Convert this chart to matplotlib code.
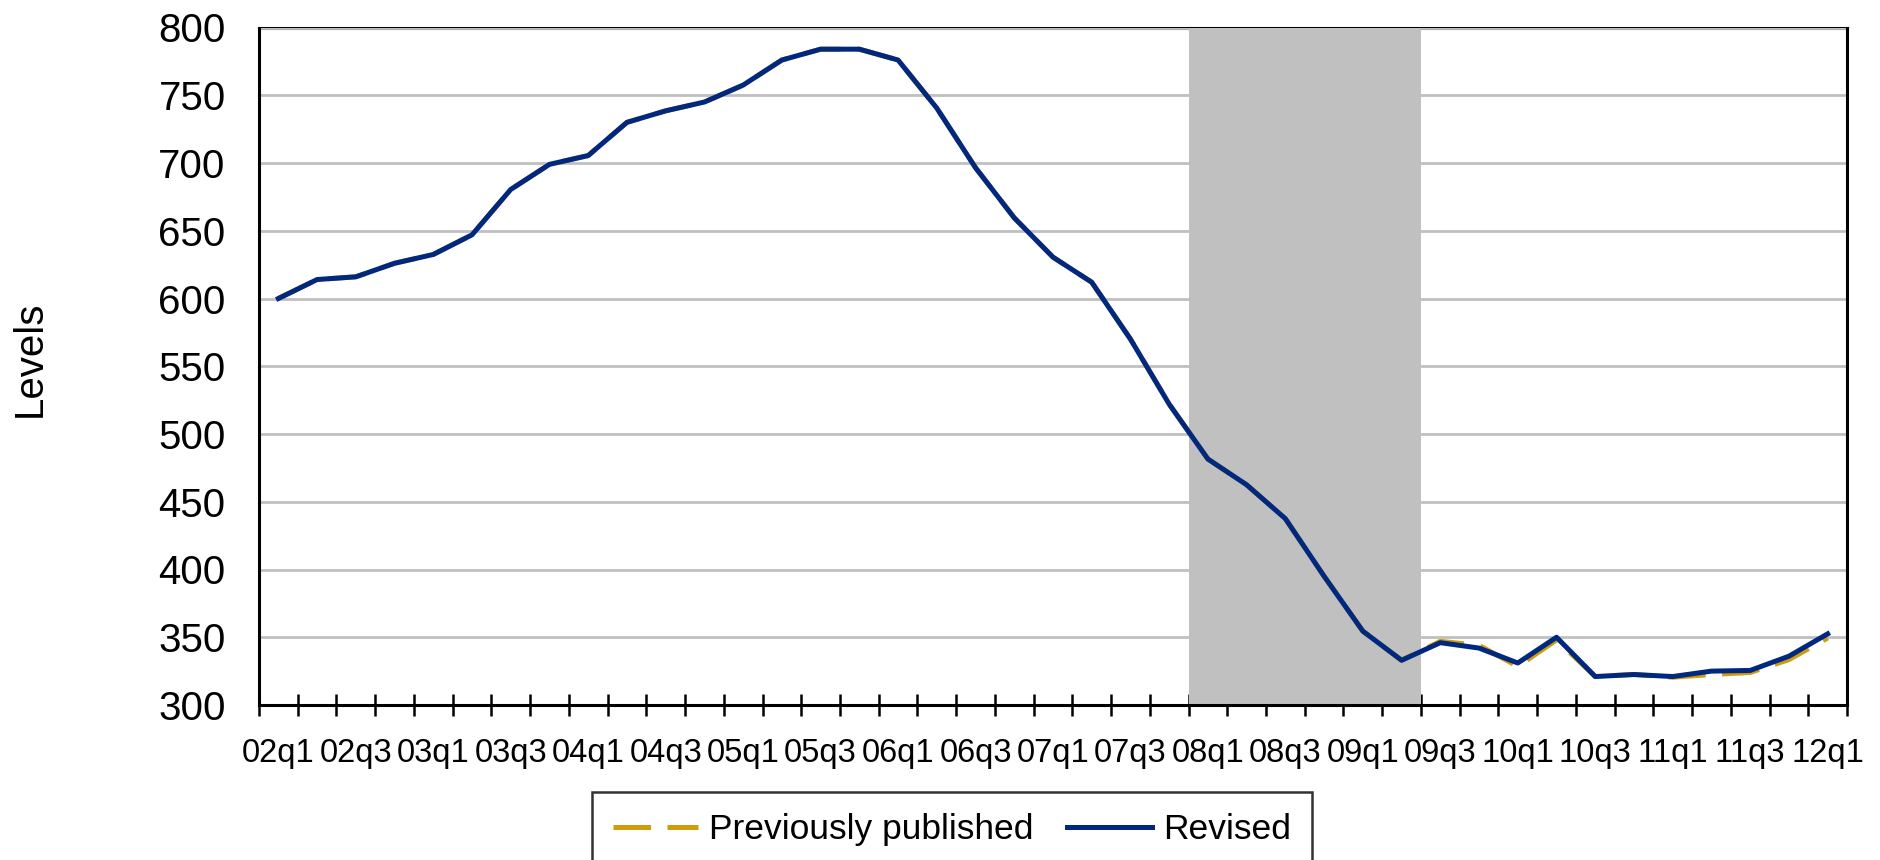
import matplotlib
matplotlib.use('Agg')
import matplotlib.pyplot as plt
from matplotlib.ticker import MultipleLocator

plt.rcParams['font.family'] = ['Liberation Sans', 'DejaVu Sans']

# Quarterly categories (02q1 .. 12q1)
quarters = ['02q1', '02q2', '02q3', '02q4', '03q1', '03q2', '03q3', '03q4',
            '04q1', '04q2', '04q3', '04q4', '05q1', '05q2', '05q3', '05q4',
            '06q1', '06q2', '06q3', '06q4', '07q1', '07q2', '07q3', '07q4',
            '08q1', '08q2', '08q3', '08q4', '09q1', '09q2', '09q3', '09q4',
            '10q1', '10q2', '10q3', '10q4', '11q1', '11q2', '11q3', '11q4',
            '12q1']

revised = [600, 614, 616, 626, 632.5, 647, 680.5, 699, 705.5, 730, 738.5, 745,
           757.5, 776, 784, 784, 776, 740.5, 696.5, 659.5, 630.5, 612, 570, 522,
           481.5, 462.5, 437.5, 395, 354.5, 333, 346, 342, 331, 350, 321, 322.5,
           321, 325, 325.5, 336, 352.5]

previously_published = [600, 614, 616, 626, 632.5, 647, 680.5, 699, 705.5, 730, 738.5, 745,
                        757.5, 776, 784, 784, 776, 740.5, 696.5, 659.5, 630.5, 612, 570, 522,
                        481.5, 462.5, 437.5, 395, 354.5, 333, 347, 344, 328.5, 348, 321, 322.5,
                        320.5, 322.5, 324, 333.5, 349.5]

# recession shading: 08q1 through 09q2
shade_start = '08q1'
shade_end = '09q2'

c_navy = '#00287f'
c_orange = '#d09c0c'
c_grid = '#c0c0c0'

fig = plt.figure(figsize=(18.81, 8.6), dpi=100)
ax = fig.add_axes([259 / 1881, 1 - 705 / 860, (1847 - 259) / 1881, (705 - 27.5) / 860])

x = list(range(len(quarters)))
i0 = quarters.index(shade_start)
i1 = quarters.index(shade_end)
ax.axvspan(i0 - 0.5, i1 + 0.5, color='#c0c0c0', lw=0, zorder=1)

ax.plot(x, previously_published, color=c_orange, lw=3.6, dashes=[7.5, 3.3],
        label='Previously published', zorder=3)
ax.plot(x, revised, color=c_navy, lw=3.6, label='Revised', zorder=4)

ax.set_xlim(-0.5, len(quarters) - 0.5)
ax.set_ylim(300, 800)
ax.yaxis.set_major_locator(MultipleLocator(50))
ax.grid(axis='y', color=c_grid, lw=2, zorder=0)
ax.set_axisbelow(True)

# labels on every second quarter, tick marks on category boundaries
ax.set_xticks(x[::2])
ax.set_xticklabels(quarters[::2])
ax.set_xticks([i - 0.5 for i in range(len(quarters) + 1)], minor=True)
ax.tick_params(axis='x', which='major', length=0, pad=24, labelsize=23.5)
ax.tick_params(axis='x', which='minor', direction='inout', length=16, width=1.8)
ax.tick_params(axis='y', length=0, pad=24, labelsize=29)

for s in ax.spines.values():
    s.set_linewidth(2.2)
    s.set_color('black')
ax.spines['top'].set_zorder(0.5)

fig.text(30 / 1881, 1 - 359 / 860, 'Levels', rotation=90, ha='center', va='center',
         fontsize=29)

leg = fig.legend(loc='upper center', bbox_to_anchor=(952 / 1881, 1 - 792 / 860),
                 ncol=2, fontsize=25.5, frameon=True, fancybox=False,
                 handlelength=2.4, handletextpad=0.3, columnspacing=0.95,
                 borderpad=0.6, borderaxespad=0)
leg.get_frame().set_edgecolor('black')
leg.get_frame().set_linewidth(1.8)

fig.savefig('out.png', dpi=100)
